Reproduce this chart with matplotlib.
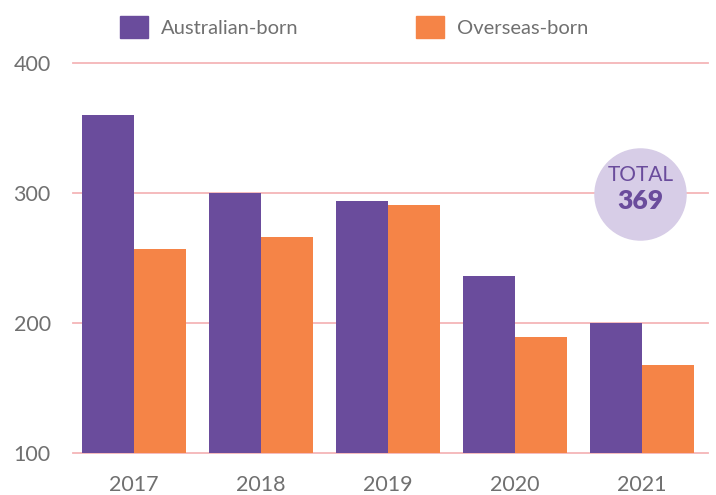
import numpy as np
import matplotlib.pyplot as plt
from matplotlib.patches import Patch

years = ['2017', '2018', '2019', '2020', '2021']
australian_born = [360, 300, 294, 236, 200]
overseas_born = [257, 266, 291, 189, 168]
total_label = 'TOTAL'
total_value = '369'

purple = '#6A4C9C'
orange = '#F58447'
grid_col = '#F5B5B8'
text_col = '#707070'

plt.rcParams['font.family'] = ['Lato', 'DejaVu Sans']

fig = plt.figure(figsize=(7.16, 4.95), dpi=100)
ax = fig.add_axes([0.102, 0.085, 0.887, 0.79])

x = np.arange(len(years))
w = 0.41
ax.bar(x - w / 2, australian_born, w, color=purple, zorder=2)
ax.bar(x + w / 2, overseas_born, w, color=orange, zorder=2)

ax.set_xlim(-0.48, 4.52)
ax.set_ylim(100, 401)
ax.set_yticks([100, 200, 300, 400])
ax.set_xticks(x)
ax.set_xticklabels(years)
ax.yaxis.grid(True, color=grid_col, linewidth=1.3, zorder=0)
ax.set_axisbelow(True)
for s in ax.spines.values():
    s.set_visible(False)
for gl in ax.get_ygridlines():
    gl.set_clip_on(False)
ax.tick_params(axis='both', length=0, labelsize=15.5, colors=text_col)
ax.tick_params(axis='y', pad=16)
ax.tick_params(axis='x', pad=16)

# total bubble
bx = 3.987
ax.scatter([bx], [299.5], s=4300, color='#D7CDE7', zorder=3, clip_on=False)
ax.text(bx, 306, total_label, ha='center', va='bottom', fontsize=15,
        color=purple, zorder=4)
ax.text(bx, 303, total_value, ha='center', va='top', fontsize=19,
        fontweight='heavy', color=purple, zorder=4)

handles = [Patch(color=purple), Patch(color=orange)]
fig.legend(handles, ['Australian-born', 'Overseas-born'], loc='center left',
           bbox_to_anchor=(0.142, 0.945), ncol=2, frameon=False,
           fontsize=14.5, handlelength=1.4, handleheight=1.3,
           columnspacing=5.8, handletextpad=0.65, labelcolor=text_col)

fig.savefig('out.png', dpi=100)
